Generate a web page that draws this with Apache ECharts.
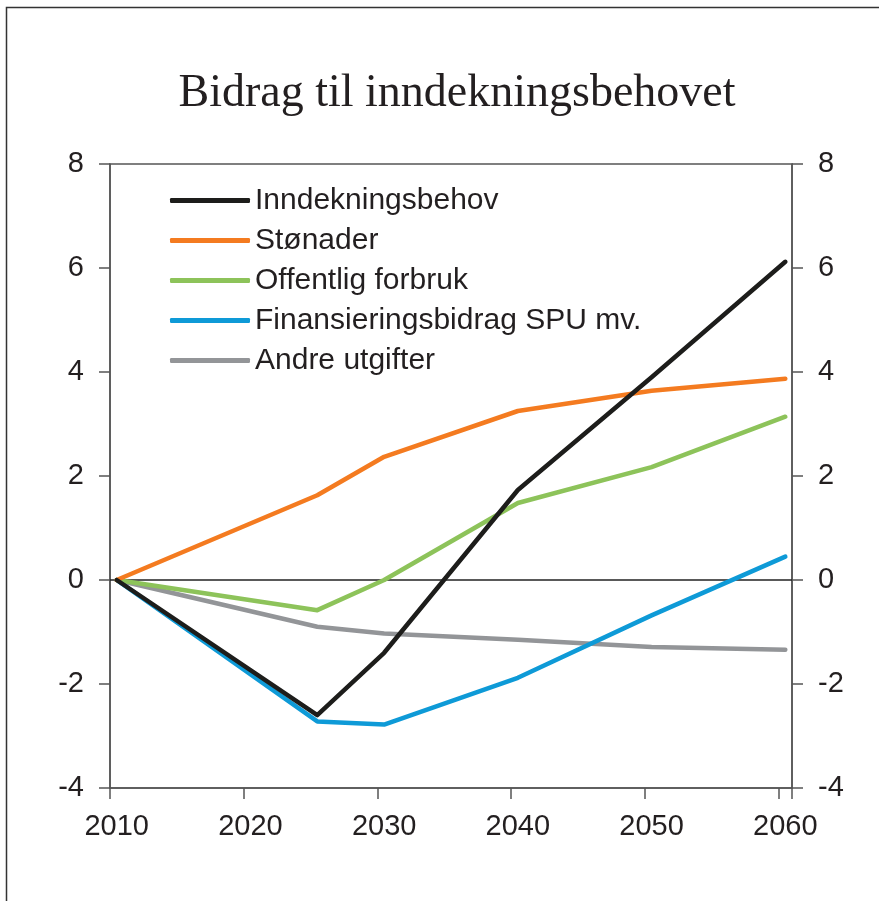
<!DOCTYPE html>
<html>
<head>
<meta charset="utf-8">
<title>Bidrag til inndekningsbehovet</title>
<script src="https://cdn.jsdelivr.net/npm/echarts@6/dist/echarts.min.js"></script>
<style>
  html, body { margin: 0; padding: 0; background: #fff; }
  #chart { width: 879px; height: 901px; }
</style>
</head>
<body>
<div id="chart"></div>
<script>
// x axis: one category per year, labels every 10 years
const allYears = []
for (let y = 2010; y <= 2060; y++) allYears.push(String(y))

// years where the series have values
const years = ['2010', '2025', '2030', '2040', '2050', '2060']

const inndekningsbehov = [0, -2.6, -1.4, 1.73, 3.9, 6.12]
const stonader = [0, 1.63, 2.37, 3.25, 3.64, 3.87]
const offentligForbruk = [0, -0.58, 0.0, 1.48, 2.17, 3.14]
const finansieringsbidrag = [0, -2.72, -2.78, -1.88, -0.68, 0.45]
const andreUtgifter = [0, -0.9, -1.03, -1.15, -1.29, -1.34]

const seriesDefs = [
  { name: 'Inndekningsbehov', values: inndekningsbehov, color: '#1d1d1b' },
  { name: 'Stønader', values: stonader, color: '#f47b20' },
  { name: 'Offentlig forbruk', values: offentligForbruk, color: '#8dc35a' },
  { name: 'Finansieringsbidrag SPU mv.', values: finansieringsbidrag, color: '#0e9ad7' },
  { name: 'Andre utgifter', values: andreUtgifter, color: '#939598' },
]

const sans = 'Arial, "Liberation Sans", sans-serif'
const axisColor = '#555'
const textColor = '#231f20'

function valueAxis(position) {
  return {
    type: 'value',
    position,
    min: -4,
    max: 8,
    interval: 2,
    axisLine: { show: true, lineStyle: { color: axisColor, width: 1.5 } },
    axisTick: { show: true, length: 11, lineStyle: { color: axisColor, width: 1.5 } },
    splitLine: { show: false },
    axisLabel: { color: textColor, fontSize: 29, fontFamily: sans, margin: 26 },
  }
}

const chart = echarts.init(document.getElementById('chart'))

const series = seriesDefs.map((s, i) => ({
  name: s.name,
  type: 'line',
  symbol: 'none',
  color: s.color,
  lineStyle: { color: s.color, width: 4.5, cap: 'round', join: 'round' },
  data: years.map((y, j) => [y, s.values[j]]),
  z: 10 - i,
  // null-linje
  markLine: i === 0 ? {
    silent: true,
    symbol: 'none',
    label: { show: false },
    lineStyle: { color: '#222', width: 1.5, type: 'solid' },
    data: [{ yAxis: 0 }],
    z: 1,
  } : undefined,
}))

chart.setOption({
  animation: false,
  backgroundColor: '#fff',
  title: {
    text: 'Bidrag til inndekningsbehovet',
    left: 452,
    top: 66,
    textAlign: 'center',
    textStyle: {
      fontFamily: '"Liberation Serif", "Times New Roman", serif',
      fontWeight: 'normal',
      fontSize: 46,
      color: textColor,
    },
  },
  graphic: [
    {
      type: 'rect',
      shape: { x: 6.5, y: 7.5, width: 920, height: 920 },
      style: { fill: null, stroke: '#333', lineWidth: 1.5 },
      silent: true,
    },
  ],
  legend: {
    orient: 'vertical',
    left: 165,
    top: 180,
    itemWidth: 80,
    itemHeight: 5,
    itemGap: 9,
    icon: 'roundRect',
    textStyle: { color: textColor, fontSize: 30, fontFamily: sans, lineHeight: 31 },
    data: seriesDefs.map((s) => s.name),
  },
  grid: {
    left: 110,
    right: 87,
    top: 164,
    bottom: 113,
    show: true,
    borderColor: axisColor,
    borderWidth: 1.5,
  },
  xAxis: {
    type: 'category',
    data: allYears,
    boundaryGap: true,
    axisLine: { show: true, onZero: false, lineStyle: { color: axisColor, width: 1.5 } },
    axisTick: { show: true, interval: 9, length: 11, lineStyle: { color: axisColor, width: 1.5 } },
    axisLabel: { interval: 9, color: textColor, fontSize: 29, fontFamily: sans, margin: 24 },
    splitLine: { show: false },
  },
  yAxis: [valueAxis('left'), valueAxis('right')],
  series,
})
</script>
</body>
</html>
